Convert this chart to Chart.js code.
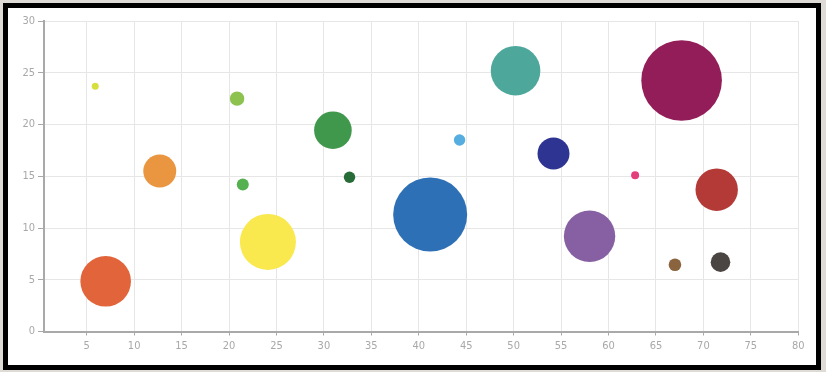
<!DOCTYPE html>
<html>
<head>
<meta charset="utf-8">
<script src="https://cdn.jsdelivr.net/npm/chart.js@4/dist/chart.umd.min.js"></script>
<style>
  html, body { margin: 0; padding: 0; }
  body { width: 826px; height: 372px; background: #dedbd6; position: relative; overflow: hidden; }
  #frame { position: absolute; left: 3px; top: 3px; width: 808px; height: 357px; border: 5px solid #000; background: #fff; }
  #wrap { position: absolute; left: 0; top: 0; width: 826px; height: 372px; }
</style>
</head>
<body>
<div id="frame"></div>
<div id="wrap"><canvas id="c" width="826" height="372"></canvas></div>
<script>
// Data
const xValues = [5.9, 7.0, 12.7, 20.85, 21.45, 24.1, 30.95, 32.7, 41.2, 44.3, 50.2, 54.2, 58.0, 62.8, 67.7, 71.4, 67.0, 71.8];
const yValues = [23.7, 4.85, 15.5, 22.5, 14.2, 8.65, 19.45, 14.9, 11.3, 18.5, 25.2, 17.2, 9.2, 15.1, 24.25, 13.7, 6.45, 6.7];
const sizes   = [3.5, 25.3, 16.5, 7.2, 6, 28, 18.8, 5.7, 37, 5.7, 24.8, 16, 25.7, 4, 40.3, 21.2, 6.3, 9.8];
const xTicks = [5, 10, 15, 20, 25, 30, 35, 40, 45, 50, 55, 60, 65, 70, 75, 80];
const yTicks = [0, 5, 10, 15, 20, 25, 30];

const bubbleColors = ['#d7df3f', '#e2643a', '#ea9640', '#8dc24f', '#55b04f', '#f9e84e', '#40984c', '#276b38', '#2d70b5',
  '#56ade0', '#4ea79b', '#2d3491', '#8760a3', '#e43d7c', '#921d58', '#b33a36', '#8a643e', '#4a4442'];

const points = xValues.map((x, i) => ({ x: x, y: yValues[i], r: sizes[i] }));

const tickFont = { family: "'Liberation Sans Narrow', 'DejaVu Sans Condensed', 'Open Sans', sans-serif", size: 11 };

new Chart(document.getElementById('c'), {
  type: 'bubble',
  data: {
    datasets: [{
      data: points,
      backgroundColor: bubbleColors,
      borderColor: bubbleColors,
      borderWidth: 0,
      hoverRadius: 0
    }]
  },
  options: {
    responsive: false,
    animation: false,
    events: [],
    plugins: { legend: { display: false }, tooltip: { enabled: false } },
    layout: { autoPadding: false, padding: { left: 0, top: 21, right: 27.7, bottom: 0 } },
    scales: {
      x: {
        type: 'linear',
        min: 0.5,
        max: 80,
        afterBuildTicks: (s) => { s.ticks = xTicks.map(v => ({ value: v })); },
        afterFit: (s) => { s.height = 40.5; },
        grid: { color: '#e6e6e6', lineWidth: 1, tickColor: '#a9a9a9', tickLength: 4, drawOnChartArea: true },
        border: { color: '#a9a9a9', width: 2 },
        ticks: { color: '#a8a8a8', font: tickFont, padding: 4, maxRotation: 0, autoSkip: false }
      },
      y: {
        type: 'linear',
        min: 0,
        max: 30,
        afterBuildTicks: (s) => { s.ticks = yTicks.map(v => ({ value: v })); },
        afterFit: (s) => { s.width = 44; },
        grid: { color: '#e6e6e6', lineWidth: 1, tickColor: '#a9a9a9', tickLength: 6 },
        border: { color: '#a9a9a9', width: 2 },
        ticks: { color: '#a8a8a8', font: tickFont, padding: 3 }
      }
    }
  }
});
</script>
</body>
</html>
